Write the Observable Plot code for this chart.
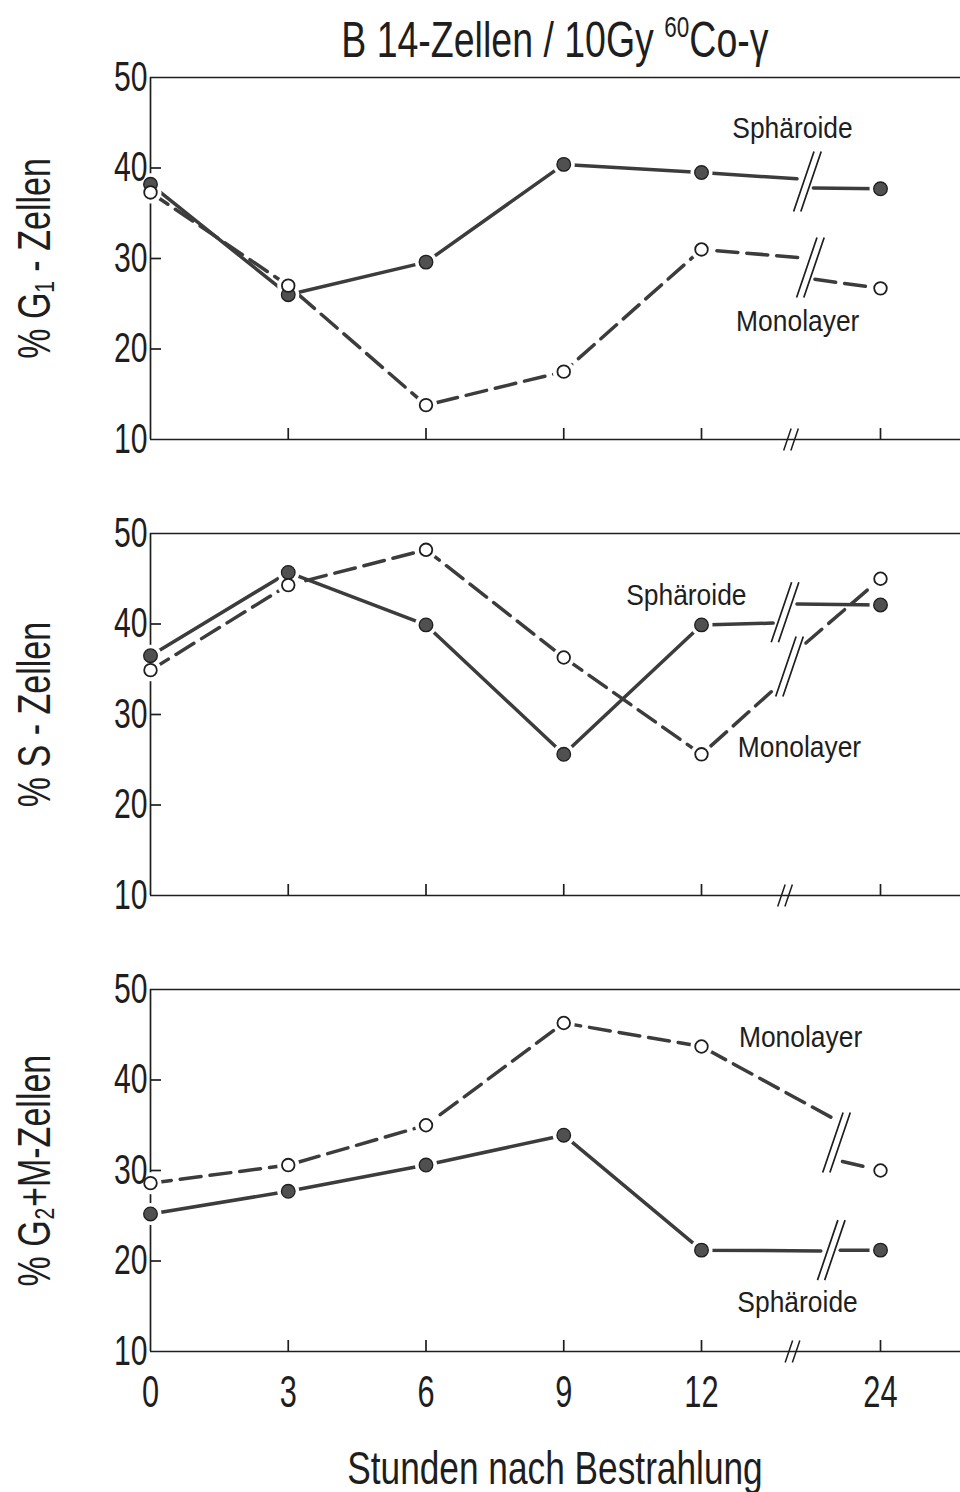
<!DOCTYPE html>
<html>
<head>
<meta charset="utf-8">
<script src="https://cdn.jsdelivr.net/npm/d3@7"></script>
<script src="https://cdn.jsdelivr.net/npm/@observablehq/plot@0.6"></script>
<style>
  body { margin: 0; background: #fff; }
  #fig { width: 960px; font-family: "Liberation Sans", Arial, sans-serif; color: #1e1e1e; }
  #title { height: 40px; line-height: 80px; padding-left: 150px; text-align: center; font-size: 50px; white-space: nowrap; }
  #title span, #xlabel span { display: inline-block; transform: scaleX(0.75); transform-origin: center; }
  #title sup { font-size: 30px; vertical-align: 20px; line-height: 0; }
  #xlabel { height: 52px; line-height: 56px; padding-left: 150px; text-align: center; font-size: 47px; white-space: nowrap; }
  #chart svg { display: block; }
</style>
</head>
<body>
<div id="fig">
  <div id="title"><span>B 14-Zellen / 10Gy <sup>60</sup>Co-γ</span></div>
  <div id="chart"></div>
  <div id="xlabel"><span>Stunden nach Bestrahlung</span></div>
</div>
<script>
// ---- data ----
const panels = ["G1", "S", "G2M"];
const panelLabels = ["% G₁ - Zellen", "% S - Zellen", "% G₂+M-Zellen"];
const hours = [0, 3, 6, 9, 12, 24];
const yTicks = [10, 20, 30, 40, 50];
const innerYTicks = [20, 30, 40];
const xTicks = [3, 6, 9, 12, 24];

// Sphäroide (filled, solid) and Monolayer (open, dashed), % cells
const g1Sph  = [38.2, 26.0, 29.6, 40.4, 39.5, 37.7];
const g1Mono = [37.3, 27.0, 13.8, 17.5, 31.0, 26.7];
const sSph   = [36.5, 45.7, 39.9, 25.6, 39.9, 42.1];
const sMono  = [34.9, 44.3, 48.2, 36.3, 25.6, 45.0];
const g2Sph  = [25.2, 27.7, 30.6, 33.9, 21.2, 21.2];
const g2Mono = [28.6, 30.6, 35.0, 46.3, 43.7, 30.0];

// broken lines between 12 h and 24 h (hour / value where the drawn segments stop and resume)
const breakPanel      = ["G1", "G1", "S", "S", "G2M", "G2M"];
const breakSeries     = ["Sph", "Mono", "Sph", "Mono", "Sph", "Mono"];
const breakPreHour    = [18.4, 18.6, 16.8, 16.8, 20.0, 21.0];
const breakPreValue   = [38.8, 30.1, 40.1, 32.7, 21.1, 35.6];
const breakMarkHour   = [19.1, 19.3, 17.6, 17.9, 20.7, 21.05];
const breakMarkValue  = [38.5, 29.0, 41.3, 35.3, 21.2, 33.1];
const breakPostHour   = [19.5, 19.6, 18.4, 19.0, 21.3, 21.45];
const breakPostValue  = [37.8, 27.7, 42.2, 37.9, 21.2, 31.0];
const axisBreakHour   = [18.0, 17.6, 18.1];

// labels inside the panels
const annPanel = ["G1", "G1", "S", "S", "G2M", "G2M"];
const annText  = ["Sphäroide", "Monolayer", "Sphäroide", "Monolayer", "Monolayer", "Sphäroide"];
const annHour  = [18.1, 18.45, 11.67, 18.57, 18.64, 18.44];
const annValue = [44.4, 23.0, 43.2, 26.4, 44.7, 15.4];

// ---- tables ----
const seriesValues = {
  G1: {Sph: g1Sph, Mono: g1Mono},
  S: {Sph: sSph, Mono: sMono},
  G2M: {Sph: g2Sph, Mono: g2Mono}
};
const points = panels.flatMap(p => ["Sph", "Mono"].flatMap(s =>
  hours.map((h, i) => ({panel: p, series: s, hour: h, value: seriesValues[p][s][i]}))));

const lineRows = [];
breakPanel.forEach((p, k) => {
  const s = breakSeries[k];
  const vals = seriesValues[p][s];
  hours.forEach((h, i) => { if (h <= 12) lineRows.push({panel: p, series: s, key: p + s + "a", hour: h, value: vals[i]}); });
  lineRows.push({panel: p, series: s, key: p + s + "a", hour: breakPreHour[k], value: breakPreValue[k]});
  lineRows.push({panel: p, series: s, key: p + s + "b", hour: breakPostHour[k], value: breakPostValue[k]});
  lineRows.push({panel: p, series: s, key: p + s + "b", hour: 24, value: vals[hours.indexOf(24)]});
});
const breakRows = breakPanel.map((p, k) => ({panel: p, hour: breakMarkHour[k], value: breakMarkValue[k]}));
const axisBreakRows = panels.map((p, k) => ({panel: p, hour: axisBreakHour[k], value: yTicks[0]}));
const annRows = annPanel.map((p, k) => ({panel: p, text: annText[k], hour: annHour[k], value: annValue[k]}));
const labelRows = panels.map((p, k) => ({panel: p, label: panelLabels[k]}));

// "//" break symbol
const breakSymbol = {
  draw(context, size) {
    const r = Math.sqrt(size / Math.PI);
    const w = r * 0.34, g = 3.6;
    for (const o of [-g, g]) { context.moveTo(o - w, r); context.lineTo(o + w, -r); }
  }
};

const ink = "#1e1e1e";
const lineInk = "#3c3c3c";
const font = '"Liberation Sans", Arial, sans-serif';

const chart = Plot.plot({
  width: 960,
  height: 1400,
  marginLeft: 150,
  marginRight: 0,
  marginTop: 37,
  marginBottom: 88,
  style: {background: "transparent", color: ink, fontFamily: font},
  x: {type: "linear", domain: [0, 12, 24], range: [150, 701, 880]},
  y: {type: "linear", domain: [10, 50]},
  fy: {domain: panels, axis: null, paddingInner: 0.206, paddingOuter: 0},
  marks: [
    Plot.ruleY([yTicks[0], yTicks[yTicks.length - 1]], {stroke: ink, strokeWidth: 1.7}),
    Plot.ruleX([hours[0]], {stroke: ink, strokeWidth: 1.7}),
    Plot.tickY(innerYTicks, {y: d => d, insetRight: 799, stroke: ink, strokeWidth: 1.7}),
    Plot.tickX(xTicks, {x: d => d, insetTop: 351, stroke: ink, strokeWidth: 1.7}),
    Plot.dot(axisBreakRows, {x: "hour", y: "value", fy: "panel", symbol: breakSymbol, r: 11, fill: "none", stroke: ink, strokeWidth: 1.5}),
    Plot.line(lineRows.filter(d => d.series === "Sph"), {x: "hour", y: "value", z: "key", fy: "panel", stroke: lineInk, strokeWidth: 3.5, strokeLinecap: "round"}),
    Plot.line(lineRows.filter(d => d.series === "Mono"), {x: "hour", y: "value", z: "key", fy: "panel", stroke: lineInk, strokeWidth: 3.5, strokeDasharray: "21,9", strokeLinecap: "round"}),
    Plot.dot(breakRows, {x: "hour", y: "value", fy: "panel", symbol: breakSymbol, r: 30, fill: "none", stroke: ink, strokeWidth: 1.7}),
    Plot.dot(points, {x: "hour", y: "value", fy: "panel", r: 11, fill: "#fff", stroke: null}),
    Plot.dot(points.filter(d => d.series === "Sph"), {x: "hour", y: "value", fy: "panel", r: 6.8, fill: "#505050", stroke: ink, strokeWidth: 1.3}),
    Plot.dot(points.filter(d => d.series === "Mono"), {x: "hour", y: "value", fy: "panel", r: 6.3, fill: "#fff", stroke: ink, strokeWidth: 1.8}),
    Plot.text(annRows, {x: "hour", y: "value", fy: "panel", text: "text", fontSize: 30, fill: ink}),
    Plot.text(labelRows, {fy: "panel", text: "label", frameAnchor: "left", dx: -115, rotate: -90, fontSize: 46, fill: ink}),
    Plot.axisY({ticks: yTicks, tickSize: 0, tickPadding: 3, fontSize: 42, label: null, tickFormat: d => String(d)}),
    Plot.axisX({ticks: hours, tickSize: 0, tickPadding: 24, fontSize: 44, label: null, tickFormat: d => String(d)})
  ]
});
document.getElementById("chart").appendChild(chart);

// narrow (condensed) lettering like the original figure
function squeeze(t, f) {
  const L = t.getComputedTextLength();
  t.setAttribute("textLength", (L * f).toFixed(1));
  t.setAttribute("lengthAdjust", "spacingAndGlyphs");
  return L * f;
}
chart.querySelectorAll('g[aria-label="y-axis tick label"] text').forEach(t => squeeze(t, 0.72));
chart.querySelectorAll('g[aria-label="x-axis tick label"] text').forEach(t => squeeze(t, 0.7));
chart.querySelectorAll('g[aria-label="text"] text').forEach(t => {
  if (t.textContent.startsWith("%")) {
    // rotated panel label: centre it explicitly along its own direction
    const len = squeeze(t, 0.74);
    t.setAttribute("text-anchor", "start");
    t.setAttribute("x", (-len / 2).toFixed(1));
  } else {
    squeeze(t, 0.88);
  }
});
</script>
</body>
</html>
